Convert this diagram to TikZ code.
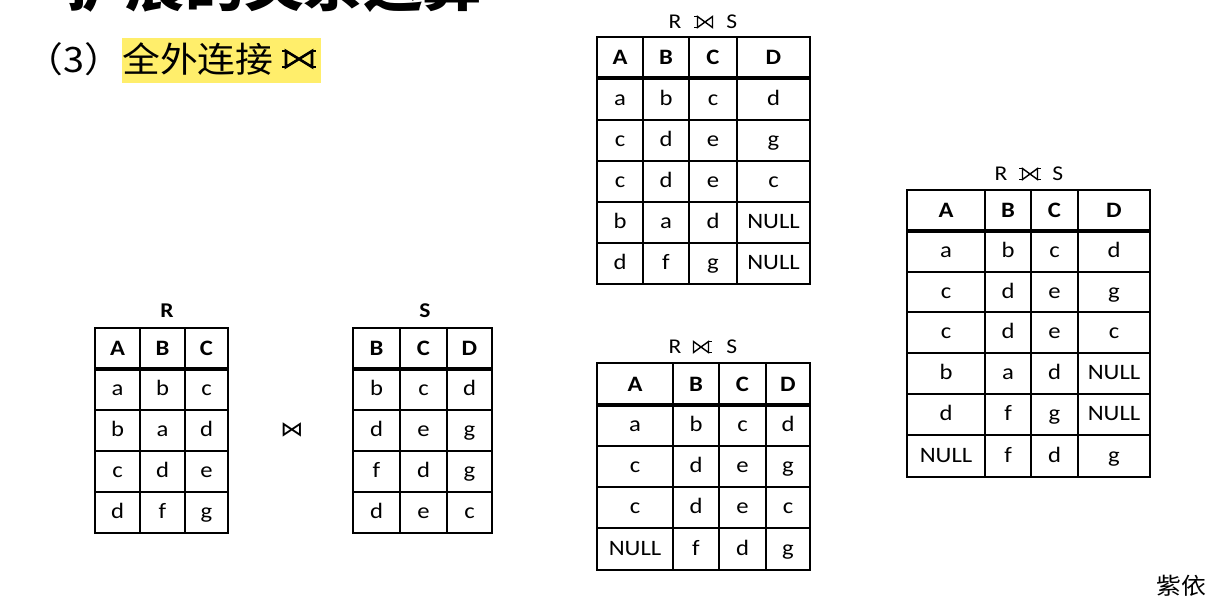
\documentclass[tikz,border=0pt]{standalone}
\usepackage{fontspec}
\setmainfont{Carlito}[FakeStretch=1.12]
\newfontfamily\cjk{Noto Sans CJK SC}[FakeStretch=1.08]
\newfontfamily\symf{DejaVu Sans}[FakeStretch=1.1]
\definecolor{hlyellow}{HTML}{FFEE6B}
\newcommand\reltable[4]{%
  \foreach \row [count=\r from 0] in {#4} {
    \foreach \cell [count=\c from 0] in \row {
      \pgfmathsetmacro\xa{{#2}[\c]}
      \pgfmathsetmacro\xb{{#2}[\c+1]}
      \pgfmathsetmacro\ya{{#3}[\r]}
      \pgfmathsetmacro\yb{{#3}[\r+1]}
      \draw[gridline] (\xa,\ya) rectangle (\xb,\yb);
      \ifnum\r=0
        \node[headtext] (#1-\r-\c) at ({(\xa+\xb)/2},{(\ya+\yb)/2+7}) {\cell};
      \else
        \node[celltext] (#1-\r-\c) at ({(\xa+\xb)/2},{(\ya+\yb)/2+6}) {\cell};
      \fi
    }
  }
}
\tikzset{
  pics/outerjoin/.style n args={5}{code={
    \draw[line join=miter] (-#1,-#2) -- (-#1,#2) -- (#1,-#2) -- (#1,#2) -- cycle;
    \ifnum#4=1 \draw (-#1,-#2) -- ({-#1-#3},-#2) (-#1,#2) -- ({-#1-#3},#2); \fi
    \ifnum#5=1 \draw (#1,-#2) -- ({#1+#3},-#2) (#1,#2) -- ({#1+#3},#2); \fi
  }}
}
\begin{document}
\begin{tikzpicture}[x=1pt,y=-1pt,
  gridline/.style={line width=1.6pt,draw=black},
  sepline/.style={line width=3.6pt,draw=black},
  celltext/.style={font=\fontsize{22}{22}\selectfont,inner sep=0pt,anchor=base},
  headtext/.style={font=\bfseries\fontsize{22}{22}\selectfont,inner sep=0pt,anchor=base},
  lbl/.style={font=\fontsize{21}{22}\selectfont,inner sep=0pt,anchor=base},
  blbl/.style={font=\bfseries\fontsize{21}{22}\selectfont,inner sep=0pt,anchor=base},
  cjktext/.style={inner sep=0pt,anchor=base west},
  symline/.style={line width=1.4pt,draw=black}]
\useasboundingbox (0,0) rectangle (1226,598);
% titles
\node[cjktext,font=\cjk\bfseries\fontsize{55}{56}\selectfont] (maintitle) at (66,6) {扩展的关系运算};
\fill[hlyellow] (122,38) rectangle (321,83);
\node[inner sep=0pt,anchor=base east,font=\cjk\fontsize{35}{36}\selectfont] (num) at (122,72) {（3）};
\node[cjktext,font=\cjk\fontsize{35}{36}\selectfont] (subtitle) at (122,72) {全外连接};
\pic[line width=2.6pt] (subsym) at (299,59) {outerjoin={13}{8}{4}{1}{1}};
% R and S
\node[blbl] (lblR) at (167,317) {R};
\node[blbl] (lblS) at (425,317) {S};
\reltable{R}{95,140,185,228}{328,369,410,451,492,533}{{A,B,C},{a,b,c},{b,a,d},{c,d,e},{d,f,g}}
\draw[sepline] (95,369) -- (228,369);
\reltable{S}{353,400,447,492}{328,369,410,451,492,533}{{B,C,D},{b,c,d},{d,e,g},{f,d,g},{d,e,c}}
\draw[sepline] (353,369) -- (492,369);
\node[inner sep=0pt,font=\symf\fontsize{21}{22}\selectfont] (joinsym) at (292,430) {⋈};
% left outer join
\node[lbl] (lblL) at (703,28) {R\hspace{45pt}S};
\pic[symline] (symL) at (705,22) {outerjoin={7.5}{5.5}{3.5}{1}{0}};
\reltable{L}{597,643,689,737,810}{37,78,120,161,202,243,284}{{A,B,C,D},{a,b,c,d},{c,d,e,g},{c,d,e,c},{b,a,d,NULL},{d,f,g,NULL}}
\draw[sepline] (597,78) -- (810,78);
% right outer join
\node[lbl] (lblRO) at (703,353) {R\hspace{45pt}S};
\pic[symline] (symRO) at (701,347) {outerjoin={7.5}{5.5}{3.5}{0}{1}};
\reltable{RO}{597,673,719,766,810}{363,405,446,487,528,570}{{A,B,C,D},{a,b,c,d},{c,d,e,g},{c,d,e,c},{NULL,f,d,g}}
\draw[sepline] (597,405) -- (810,405);
% full outer join
\node[lbl] (lblF) at (1029,180) {R\hspace{45pt}S};
\pic[symline] (symF) at (1030,174) {outerjoin={7.5}{5.5}{3.5}{1}{1}};
\reltable{F}{907,985,1031,1078,1150}{190,231,272,312,353,394,435,477}{{A,B,C,D},{a,b,c,d},{c,d,e,g},{c,d,e,c},{b,a,d,NULL},{d,f,g,NULL},{NULL,f,d,g}}
\draw[sepline] (907,231) -- (1150,231);
% signature
\node[cjktext,font=\cjk\fontsize{23}{24}\selectfont] (sig) at (1156,594) {紫依};
\end{tikzpicture}
\end{document}
